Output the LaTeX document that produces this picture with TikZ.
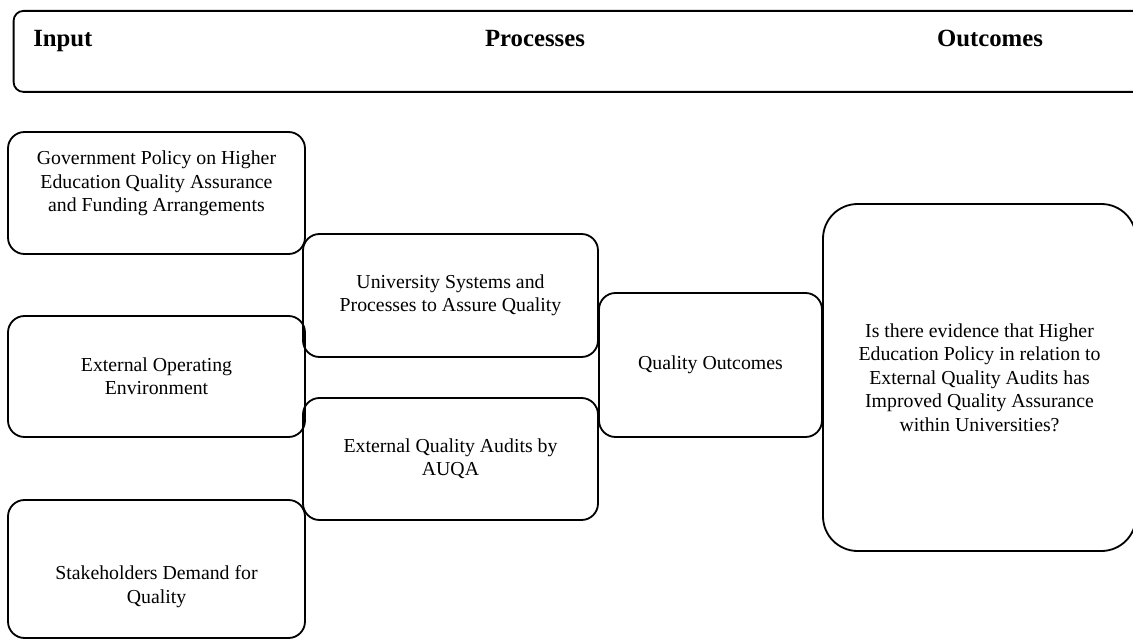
\documentclass[tikz,border=0pt]{standalone}
\usepackage{fontspec}
\setmainfont{Liberation Serif}
\usepackage{tikz}

\newcommand{\pxl}{0.6061pt}
\tikzset{
  stage/.style={draw, line width=1.1pt, rounded corners=10pt, align=center, inner sep=0pt,
    font=\fontsize{12}{14.2}\selectfont},
  headtext/.style={font=\fontsize{15}{18}\selectfont\bfseries, inner sep=0pt}
}

\begin{document}
\begin{tikzpicture}[x=\pxl, y=-\pxl]
\useasboundingbox (0,0) rectangle (1133,640);
\clip (0,0) rectangle (1133,640);

\node[draw, line width=1.1pt, rounded corners=6pt, anchor=north west, inner sep=0pt,
  minimum width=1150*\pxl, minimum height=81*\pxl] (header) at (12.7,10) {};
\node[headtext, anchor=base west] (hinput) at (33,47) {Input};
\node[headtext, anchor=base] (hproc) at (535,47) {Processes};
\node[headtext, anchor=base] (hout) at (990,47) {Outcomes};

\node[stage, minimum width=297*\pxl, minimum height=122*\pxl] (govpolicy) at (156.5,193)
  {Government Policy on Higher\\Education Quality Assurance\\and Funding Arrangements\\\mbox{}};
\node[stage, minimum width=297*\pxl, minimum height=121*\pxl] (extenv) at (156.5,376.5)
  {External Operating\\Environment};
\node[stage, minimum width=297*\pxl, minimum height=138*\pxl] (stakeh) at (156.5,569)
  {\mbox{}\\[15.8pt]Stakeholders Demand for\\Quality};

\node[stage, minimum width=295*\pxl, minimum height=123*\pxl] (unisys) at (450.5,295.5)
  {University Systems and\\Processes to Assure Quality};
\node[stage, minimum width=295*\pxl, minimum height=122*\pxl] (audits) at (450.5,459)
  {External Quality Audits by\\AUQA};

\node[stage, minimum width=223*\pxl, minimum height=144*\pxl] (qualout) at (710.5,365)
  {Quality Outcomes};
\node[stage, rounded corners=21pt, minimum width=313*\pxl, minimum height=347*\pxl] (question) at (979.5,377.5)
  {Is there evidence that Higher\\Education Policy in relation to\\External Quality Audits has\\Improved Quality Assurance\\within Universities?};
\end{tikzpicture}
\end{document}
